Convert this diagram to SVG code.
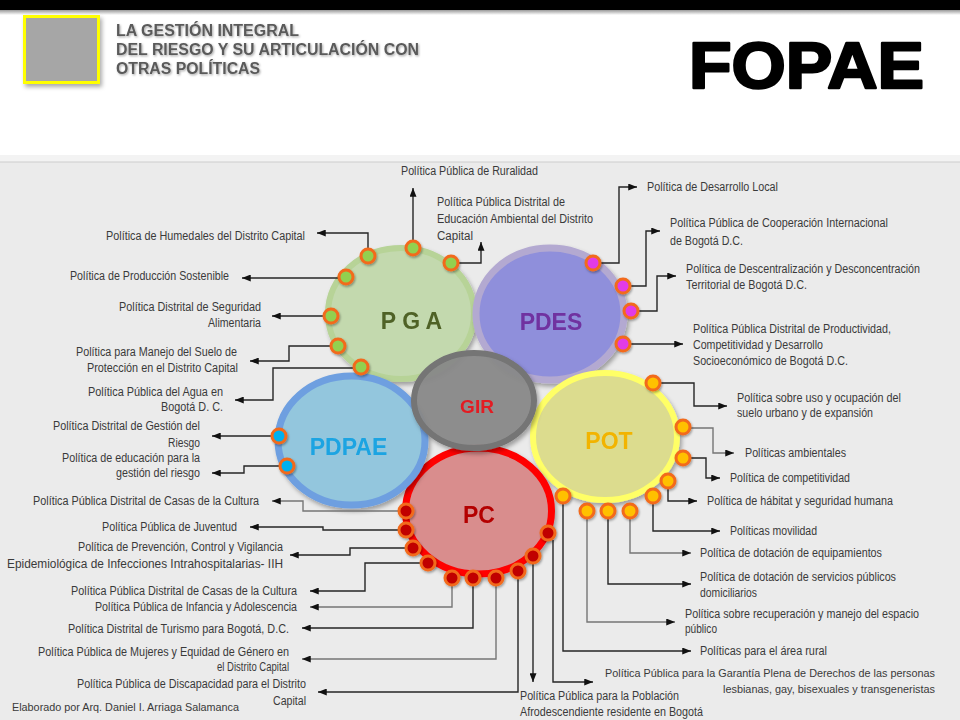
<svg xmlns="http://www.w3.org/2000/svg" width="960" height="720" viewBox="0 0 960 720">
<defs>
<style>
.lbl{font-family:"Liberation Sans Narrow","Arial Narrow","Liberation Sans",Arial,sans-serif;font-size:12.5px;fill:#3a3a3a}
.r{text-anchor:end}
.hd{font-family:"Liberation Sans",Arial,sans-serif;font-size:16px;font-weight:bold;fill:#5a5a5a}
.big{font-family:"Liberation Sans",Arial,sans-serif;font-size:23px;font-weight:bold;text-anchor:middle}
.cn{fill:none;stroke:#262626;stroke-width:1.4;marker-end:url(#ah)}
.cg{stroke:#767676}
.dot{stroke:#f26a1b;stroke-width:3}
.dg{fill:#92d050}.dm{fill:#e23ae6}.dc{fill:#00b0f0}.dr{fill:#c00000}.dy{fill:#ffc000}
</style>
<marker id="ah" viewBox="0 0 10 8" refX="10" refY="4" markerWidth="9" markerHeight="7" markerUnits="userSpaceOnUse" orient="auto"><path d="M0,0 L10,4 L0,8 z" fill="#111"/></marker>
<filter id="sh" x="-20%" y="-20%" width="140%" height="140%"><feDropShadow dx="2" dy="3" stdDeviation="2.2" flood-color="#000" flood-opacity="0.33"/></filter>
<filter id="ts" x="-10%" y="-20%" width="120%" height="150%"><feDropShadow dx="1" dy="1.2" stdDeviation="0.8" flood-color="#000" flood-opacity="0.35"/></filter>
<filter id="ds" x="-50%" y="-50%" width="200%" height="200%"><feDropShadow dx="1" dy="1.5" stdDeviation="1" flood-color="#000" flood-opacity="0.35"/></filter>
<linearGradient id="tb" x1="0" y1="0" x2="0" y2="1"><stop offset="0" stop-color="#9a9a9a"/><stop offset="1" stop-color="#ffffff"/></linearGradient>
</defs>
<rect x="0" y="0" width="960" height="720" fill="#ffffff"/>
<rect x="0" y="0" width="960" height="10" fill="#000"/>
<rect x="0" y="10" width="960" height="5" fill="url(#tb)"/>
<rect x="0" y="155" width="960" height="7" fill="#f3f3f3"/>
<rect x="0" y="162" width="960" height="558" fill="#ebebeb"/>
<line x1="0" y1="162" x2="960" y2="162" stroke="#cdcdcd" stroke-width="1"/>
<g id="header">
<rect x="24.5" y="16.5" width="74" height="66" fill="#a6a6a6" stroke="#ffff00" stroke-width="3" filter="url(#sh)"/>
<g filter="url(#ts)">
<text class="hd" x="116" y="36" textLength="183" lengthAdjust="spacingAndGlyphs">LA GESTIÓN INTEGRAL</text>
<text class="hd" x="116" y="55" textLength="303" lengthAdjust="spacingAndGlyphs">DEL RIESGO Y SU ARTICULACIÓN CON</text>
<text class="hd" x="116" y="74" textLength="144" lengthAdjust="spacingAndGlyphs">OTRAS POLÍTICAS</text>
</g>
<text x="689" y="88" font-family="Liberation Sans, Arial, sans-serif" font-size="65" font-weight="bold" fill="#000" stroke="#000" stroke-width="2.4" stroke-linejoin="round" textLength="235" lengthAdjust="spacingAndGlyphs">FOPAE</text>
</g>
<g id="node-pga" filter="url(#sh)">
<ellipse cx="401" cy="313.5" rx="73" ry="65.5" fill="#c3d9ae" stroke="#b7d397" stroke-width="6"/>
<text class="big" x="411.5" y="329" fill="#4f6228">P G A</text>
</g>
<g id="node-pdes" filter="url(#sh)">
<ellipse cx="550" cy="314" rx="74" ry="66" fill="#8f8fdb" stroke="#b3a9d1" stroke-width="7"/>
<text class="big" x="551" y="330" fill="#7030a0">PDES</text>
</g>
<g id="node-pot" filter="url(#sh)">
<ellipse cx="605" cy="436.5" rx="72" ry="63.5" fill="#dcdc8e" stroke="#ffff66" stroke-width="6"/>
<text class="big" x="609" y="449" fill="#f2b400">POT</text>
</g>
<g id="node-pc" filter="url(#sh)">
<ellipse cx="478.5" cy="511" rx="73" ry="63" fill="#d98d8d" stroke="#ff0000" stroke-width="7"/>
<text class="big" x="479" y="523" fill="#b40000">PC</text>
</g>
<g id="node-pdpae" filter="url(#sh)">
<ellipse cx="351.5" cy="440.5" rx="73.5" ry="64.5" fill="#93c6dd" stroke="#6e9fe0" stroke-width="7"/>
<text class="big" x="348.5" y="455" fill="#1ca4e2">PDPAE</text>
</g>
<g id="node-gir" filter="url(#sh)">
<ellipse cx="474" cy="400.5" rx="60" ry="47.5" fill="#8a8a8a" fill-opacity="0.93" stroke="#747474" stroke-width="6"/>
<text x="477" y="413" font-family="Liberation Sans, Arial, sans-serif" font-size="19" font-weight="bold" text-anchor="middle" fill="#e31b23">GIR</text>
</g>
<g id="connectors">
<path class="cn" d="M368,256 V233 H317"/>
<path class="cn" d="M346,278 H242"/>
<path class="cn" d="M331,316 H272"/>
<path class="cn" d="M338,346 H289 V361 H250"/>
<path class="cn" d="M361,368 H273 V400 H235"/>
<path class="cn" d="M413,248 V188"/>
<path class="cn" d="M451,263 H481 V242"/>
<path class="cn" d="M279,436 H212"/>
<path class="cn" d="M287,466 H244 V473 H212"/>
<path class="cn cg" d="M406,511 H303 V501 H272"/>
<path class="cn" d="M406,530 H323 V527 H250"/>
<path class="cn" d="M413,548 H350 V555 H290"/>
<path class="cn" d="M428,563 H365 V591 H310"/>
<path class="cn cg" d="M452,578 V607 H310"/>
<path class="cn" d="M473,578 V628 H302"/>
<path class="cn cg" d="M496,578 V659 H302"/>
<path class="cn" d="M518,571 V692 H318"/>
<path class="cn" d="M533,556 V682"/>
<path class="cn" d="M553,540 V682 H593"/>
<path class="cn" d="M653,383 H694 V406 H727"/>
<path class="cn cg" d="M683,428 H713 V453 H734"/>
<path class="cn" d="M683,458 H706 V478 H720"/>
<path class="cn" d="M668,481 V501 H697"/>
<path class="cn" d="M653,496 V531 H720"/>
<path class="cn cg" d="M630,511 V553 H691"/>
<path class="cn" d="M608,511 V584 H691"/>
<path class="cn cg" d="M587,511 V622 H675"/>
<path class="cn" d="M563,496 V651 H691"/>
<path class="cn" d="M593,263 H619 V187 H637"/>
<path class="cn" d="M623,286 H646 V231 H660"/>
<path class="cn" d="M631,311 H657 V276 H676"/>
<path class="cn" d="M623,344 H683"/>
</g>
<g id="ports" filter="url(#ds)">
<g class="dot dg">
<circle cx="368" cy="256" r="7"/><circle cx="413" cy="248" r="7"/><circle cx="451" cy="263" r="7"/><circle cx="346" cy="277" r="7"/><circle cx="331" cy="316" r="7"/><circle cx="338" cy="346" r="7"/><circle cx="361" cy="367" r="7"/>
</g>
<g class="dot dm">
<circle cx="593" cy="263" r="7"/><circle cx="623" cy="286" r="7"/><circle cx="631" cy="311" r="7"/><circle cx="623" cy="344" r="7"/>
</g>
<g class="dot dc">
<circle cx="279" cy="436" r="7"/><circle cx="287" cy="466" r="7"/>
</g>
<g class="dot dr">
<circle cx="406" cy="511" r="7"/><circle cx="406" cy="530" r="7"/><circle cx="413" cy="548" r="7"/><circle cx="428" cy="563" r="7"/><circle cx="452" cy="578" r="7"/><circle cx="473" cy="578" r="7"/><circle cx="496" cy="578" r="7"/><circle cx="518" cy="571" r="7"/><circle cx="533" cy="556" r="7"/><circle cx="548" cy="533" r="7"/>
</g>
<g class="dot dy">
<circle cx="653" cy="383" r="7"/><circle cx="683" cy="427" r="7"/><circle cx="683" cy="458" r="7"/><circle cx="668" cy="481" r="7"/><circle cx="653" cy="496" r="7"/><circle cx="630" cy="511" r="7"/><circle cx="608" cy="511" r="7"/><circle cx="587" cy="511" r="7"/><circle cx="563" cy="496" r="7"/>
</g>
</g>
<g id="labels">
<text class="lbl r" x="305" y="240" textLength="199" lengthAdjust="spacingAndGlyphs">Política de Humedales del Distrito Capital</text>
<text class="lbl r" x="229" y="280" textLength="159" lengthAdjust="spacingAndGlyphs">Política de Producción Sostenible</text>
<text class="lbl r" x="261" y="311" textLength="142" lengthAdjust="spacingAndGlyphs">Política Distrital de Seguridad</text>
<text class="lbl r" x="261" y="327" textLength="53" lengthAdjust="spacingAndGlyphs">Alimentaria</text>
<text class="lbl r" x="237" y="356" textLength="161" lengthAdjust="spacingAndGlyphs">Política para Manejo del Suelo de</text>
<text class="lbl r" x="238" y="372" textLength="151" lengthAdjust="spacingAndGlyphs">Protección en el Distrito Capital</text>
<text class="lbl r" x="223" y="396" textLength="135" lengthAdjust="spacingAndGlyphs">Política Pública del Agua en</text>
<text class="lbl r" x="223" y="411" textLength="62" lengthAdjust="spacingAndGlyphs">Bogotá D. C.</text>
<text class="lbl r" x="200" y="430" textLength="147" lengthAdjust="spacingAndGlyphs">Política Distrital de Gestión del</text>
<text class="lbl r" x="200" y="447" textLength="32" lengthAdjust="spacingAndGlyphs">Riesgo</text>
<text class="lbl r" x="200" y="462" textLength="138" lengthAdjust="spacingAndGlyphs">Política de educación para la</text>
<text class="lbl r" x="200" y="477" textLength="84" lengthAdjust="spacingAndGlyphs">gestión del riesgo</text>
<text class="lbl r" x="259" y="505" textLength="226" lengthAdjust="spacingAndGlyphs">Política Pública Distrital de Casas de la Cultura</text>
<text class="lbl r" x="237" y="531" textLength="135" lengthAdjust="spacingAndGlyphs">Política Pública de Juventud</text>
<text class="lbl r" x="283" y="551" textLength="205" lengthAdjust="spacingAndGlyphs">Política de Prevención, Control y Vigilancia</text>
<text class="lbl r" x="283" y="568" textLength="276" lengthAdjust="spacingAndGlyphs">Epidemiológica de Infecciones Intrahospitalarias- IIH</text>
<text class="lbl r" x="297" y="595" textLength="226" lengthAdjust="spacingAndGlyphs">Política Pública Distrital de Casas de la Cultura</text>
<text class="lbl r" x="297" y="611" textLength="202" lengthAdjust="spacingAndGlyphs">Política Pública de Infancia y Adolescencia</text>
<text class="lbl r" x="289" y="633" textLength="221" lengthAdjust="spacingAndGlyphs">Política Distrital de Turismo para Bogotá, D.C.</text>
<text class="lbl r" x="289" y="656" textLength="251" lengthAdjust="spacingAndGlyphs">Política Pública de Mujeres y Equidad de Género en</text>
<text class="lbl r" x="289" y="671" textLength="72" lengthAdjust="spacingAndGlyphs">el Distrito Capital</text>
<text class="lbl r" x="306" y="688" textLength="229" lengthAdjust="spacingAndGlyphs">Política Pública de Discapacidad para el Distrito</text>
<text class="lbl r" x="306" y="705" textLength="33" lengthAdjust="spacingAndGlyphs">Capital</text>
<text x="12" y="711" font-family="Liberation Sans, Arial, sans-serif" font-size="11" fill="#3a3a3a" textLength="227" lengthAdjust="spacingAndGlyphs">Elaborado por Arq. Daniel I. Arriaga Salamanca</text>
<text class="lbl" x="401" y="175" textLength="137" lengthAdjust="spacingAndGlyphs">Política Pública de Ruralidad</text>
<text class="lbl" x="437" y="206" textLength="128" lengthAdjust="spacingAndGlyphs">Política Pública Distrital de</text>
<text class="lbl" x="437" y="223" textLength="156" lengthAdjust="spacingAndGlyphs">Educación Ambiental del Distrito</text>
<text class="lbl" x="437" y="240" textLength="36" lengthAdjust="spacingAndGlyphs">Capital</text>
<text class="lbl" x="647" y="191" textLength="131" lengthAdjust="spacingAndGlyphs">Política de Desarrollo Local</text>
<text class="lbl" x="670" y="227" textLength="218" lengthAdjust="spacingAndGlyphs">Política Pública de Cooperación Internacional</text>
<text class="lbl" x="670" y="245" textLength="73" lengthAdjust="spacingAndGlyphs">de Bogotá D.C.</text>
<text class="lbl" x="686" y="273" textLength="234" lengthAdjust="spacingAndGlyphs">Política de Descentralización y Desconcentración</text>
<text class="lbl" x="686" y="289" textLength="121" lengthAdjust="spacingAndGlyphs">Territorial de Bogotá D.C.</text>
<text class="lbl" x="693" y="333" textLength="198" lengthAdjust="spacingAndGlyphs">Política Pública Distrital de Productividad,</text>
<text class="lbl" x="693" y="349" textLength="130" lengthAdjust="spacingAndGlyphs">Competitividad y Desarrollo</text>
<text class="lbl" x="693" y="365" textLength="155" lengthAdjust="spacingAndGlyphs">Socioeconómico de Bogotá D.C.</text>
<text class="lbl" x="737" y="402" textLength="164" lengthAdjust="spacingAndGlyphs">Política sobre uso y ocupación del</text>
<text class="lbl" x="737" y="417" textLength="136" lengthAdjust="spacingAndGlyphs">suelo urbano y de expansión</text>
<text class="lbl" x="745" y="457" textLength="101" lengthAdjust="spacingAndGlyphs">Políticas ambientales</text>
<text class="lbl" x="730" y="482" textLength="120" lengthAdjust="spacingAndGlyphs">Política de competitividad</text>
<text class="lbl" x="707" y="505" textLength="186" lengthAdjust="spacingAndGlyphs">Política de hábitat y seguridad humana</text>
<text class="lbl" x="730" y="535" textLength="87" lengthAdjust="spacingAndGlyphs">Políticas movilidad</text>
<text class="lbl" x="700" y="557" textLength="182" lengthAdjust="spacingAndGlyphs">Política de dotación de equipamientos</text>
<text class="lbl" x="700" y="581" textLength="196" lengthAdjust="spacingAndGlyphs">Política de dotación de servicios públicos</text>
<text class="lbl" x="700" y="597" textLength="57" lengthAdjust="spacingAndGlyphs">domiciliarios</text>
<text class="lbl" x="685" y="618" textLength="234" lengthAdjust="spacingAndGlyphs">Política sobre recuperación y manejo del espacio</text>
<text class="lbl" x="685" y="633" textLength="32" lengthAdjust="spacingAndGlyphs">público</text>
<text class="lbl" x="700" y="655" textLength="127" lengthAdjust="spacingAndGlyphs">Políticas para el área rural</text>
<text class="lbl" x="605" y="677" font-size="11" textLength="330" lengthAdjust="spacingAndGlyphs" style="font-size:11px">Política Pública para la Garantía Plena de Derechos de las personas</text>
<text class="lbl" x="723" y="693" font-size="11" textLength="212" lengthAdjust="spacingAndGlyphs" style="font-size:11px">lesbianas, gay, bisexuales y transgeneristas</text>
<text class="lbl" x="520" y="700" textLength="159" lengthAdjust="spacingAndGlyphs">Política Pública para la Población</text>
<text class="lbl" x="520" y="716" textLength="183" lengthAdjust="spacingAndGlyphs">Afrodescendiente residente en Bogotá</text>
</g>
</svg>
